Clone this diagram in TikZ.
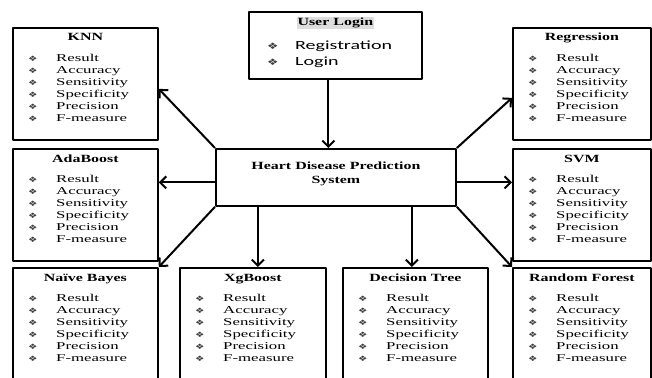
\documentclass[tikz,border=0pt]{standalone}
\usepackage{fontspec}
\usetikzlibrary{arrows.meta,calc}
\setmainfont{Liberation Serif}
\newfontfamily\itemfont[FakeStretch=1.6]{Liberation Serif}
\newfontfamily\headfont[FakeStretch=1.45]{Liberation Serif}
\newfontfamily\loginfont[FakeStretch=1.6]{Carlito}
\newfontfamily\bulfont[FakeStretch=1.4]{DejaVu Sans}
\definecolor{bulgray}{RGB}{60,60,60}
\definecolor{hlgray}{RGB}{222,222,222}
\newcommand{\bul}[1]{{\bulfont\fontsize{#1}{#1}\selectfont\textcolor{bulgray}{❖}}}
\newcommand{\metric}[1]{\makebox[28pt][l]{\bul{7.5}}#1}
\newcommand{\algbox}[4]{%
  % #1 = node name, #2 = top-left corner, #3 = box width, #4 = title
  \node[algbox, minimum width=#3] (#1) at (#2) {};
  \node[boxtitle] (#1-title) at ([yshift=-14pt]#1.north) {#4};
  \node[metrics] (#1-list) at ([xshift=16pt,yshift=-27pt]#1.north west)
    {\metric{Result}\\ \metric{Accuracy}\\ \metric{Sensitivity}\\ \metric{Specificity}\\ \metric{Precision}\\ \metric{F-measure}};
}

\begin{document}
\begin{tikzpicture}[x=1pt, y=-1pt, line join=round,
  algbox/.style={draw, line width=1.8pt, minimum height=112pt, anchor=north west, inner sep=0pt},
  boxtitle/.style={anchor=base, inner sep=0pt, font=\headfont\bfseries\fontsize{11}{14}\selectfont},
  metrics/.style={anchor=north west, inner sep=0pt, align=left, font=\itemfont\fontsize{10.5}{12}\selectfont},
  arr/.style={line width=2pt, -{Straight Barb[length=6pt,width=12pt]}}]

\useasboundingbox (0,0) rectangle (652,377);
\clip (0,0) rectangle (652,377);

% ============ USER LOGIN ============
\node[draw, line width=1.8pt, anchor=north west, minimum width=173pt, minimum height=67pt, inner sep=0pt] (login) at (248,11) {};
\node[boxtitle, fill=hlgray, inner sep=1pt] (login-title) at ([yshift=-15pt]login.north) {User Login};
\node[anchor=north west, inner sep=0pt, align=left, font=\loginfont\fontsize{12.5}{16}\selectfont] (login-list)
  at ([xshift=19pt,yshift=-30pt]login.north west)
  {\makebox[28pt][l]{\bul{9}}Registration\\ \makebox[28pt][l]{\bul{9}}Login};

% ============ CENTRAL SYSTEM ============
\node[draw, line width=1.8pt, anchor=north west, minimum width=240pt, minimum height=57pt, inner sep=0pt] (hdps) at (215,148) {};
\node[align=center, inner sep=0pt, font=\headfont\bfseries\fontsize{11}{14}\selectfont] (hdps-label)
  at ([yshift=4pt]hdps.center) {Heart Disease Prediction\\System};

% ============ ALGORITHM BOXES ============
\algbox{knn}{12,27}{145pt}{KNN}
\algbox{ada}{12,148}{145pt}{AdaBoost}
\algbox{nb}{12,267}{145pt}{Naïve Bayes}
\algbox{xgb}{179,267}{146pt}{XgBoost}
\algbox{dt}{342,267}{145pt}{Decision Tree}
\algbox{reg}{512,27}{138pt}{Regression}
\algbox{svm}{512,148}{138pt}{SVM}
\algbox{rf}{512,267}{138pt}{Random Forest}

% ============ CONNECTORS ============
\draw[arr] ([xshift=-7pt]login.south) -- ([xshift=-7pt]login.south |- hdps.north);
\draw[arr] (hdps.north west) -- ([yshift=-5pt]knn.east);
\draw[arr] ([yshift=-5pt]hdps.west) -- ([yshift=-5pt]hdps.west -| ada.east);
\draw[arr] (hdps.south west) -- (nb.north east);
\draw[arr] ([xshift=5pt]xgb.north |- hdps.south) -- ([xshift=5pt]xgb.north);
\draw[arr] ([xshift=-3.5pt]dt.north |- hdps.south) -- ([xshift=-3.5pt]dt.north);
\draw[arr] (hdps.south east) -- (rf.north west);
\draw[arr] ([yshift=-5pt]hdps.east) -- ([yshift=-5pt]hdps.east -| svm.west);
\draw[arr] (hdps.north east) -- ([yshift=-14pt]reg.west);
\end{tikzpicture}
\end{document}
